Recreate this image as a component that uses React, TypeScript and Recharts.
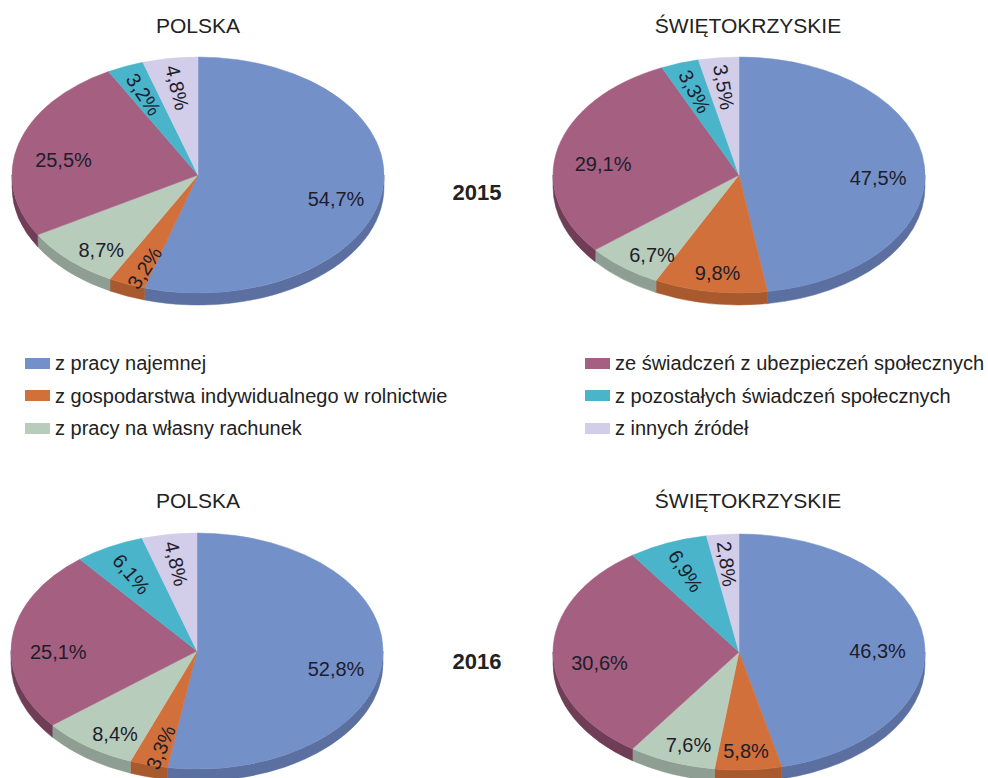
import * as React from 'react';
import { Pie, PieChart } from 'recharts';

const kategorie = [
  'z pracy najemnej',
  'z gospodarstwa indywidualnego w rolnictwie',
  'z pracy na własny rachunek',
  'ze świadczeń z ubezpieczeń społecznych',
  'z pozostałych świadczeń społecznych',
  'z innych źródeł',
];

const polska2015 = [54.7, 3.2, 8.7, 25.5, 3.2, 4.8];
const swietokrzyskie2015 = [47.5, 9.8, 6.7, 29.1, 3.3, 3.5];
const polska2016 = [52.8, 3.3, 8.4, 25.1, 6.1, 4.8];
const swietokrzyskie2016 = [46.3, 5.8, 7.6, 30.6, 6.9, 2.8];

const KOLORY = ['#7490C9', '#D2703B', '#B8CCBC', '#A55F80', '#4AB4CB', '#D2CDE8'];
const BOKI = ['#5B6FA0', '#A85A2E', '#8E9E92', '#6F3E56', '#3A8FA2', '#A9A4BE'];

const RX = 186;
const RY = 118;
const K = RY / RX;
const GLEBOKOSC = 12;

function zbuduj(wartosci: number[]) {
  return wartosci.map((value, i) => ({ name: kategorie[i], value, fill: KOLORY[i], side: BOKI[i] }));
}

const pkt = (cx: number, cy: number, rx: number, ry: number, a: number, dy = 0) => {
  const r = (a * Math.PI) / 180;
  return `${cx + rx * Math.cos(r)},${cy - ry * Math.sin(r) + dy}`;
};

/** Wycinek eliptyczny z boczną ścianką (efekt 3D). */
function Wycinek(props: any) {
  const { cx, cy, outerRadius, startAngle, endAngle, fill } = props;
  const rx = outerRadius;
  const ry = outerRadius * K;
  const side = props.payload?.side ?? props.side ?? '#666';
  const hi = Math.max(startAngle, endAngle);
  const lo = Math.min(startAngle, endAngle);
  const duzy = hi - lo > 180 ? 1 : 0;

  const gora = `M${cx},${cy} L${pkt(cx, cy, rx, ry, hi)} A${rx},${ry} 0 ${duzy} 1 ${pkt(cx, cy, rx, ry, lo)} Z`;

  // widoczna część boku: dolna połowa elipsy (kąty od -180 do 0)
  const a1 = Math.min(hi, 0);
  const a2 = Math.max(lo, -180);
  let bok: string | null = null;
  if (a1 > a2) {
    const d = a1 - a2 > 180 ? 1 : 0;
    bok =
      `M${pkt(cx, cy, rx, ry, a1)} A${rx},${ry} 0 ${d} 1 ${pkt(cx, cy, rx, ry, a2)} ` +
      `L${pkt(cx, cy, rx, ry, a2, GLEBOKOSC)} A${rx},${ry} 0 ${d} 0 ${pkt(cx, cy, rx, ry, a1, GLEBOKOSC)} Z`;
  }

  return (
    <g>
      {bok && <path d={bok} fill={side} stroke={side} strokeWidth={0.5} />}
      <path d={gora} fill={fill} stroke={fill} strokeWidth={0.5} />
    </g>
  );
}

function Etykieta(props: any) {
  const { cx, cy, midAngle, outerRadius, value, index } = props;
  const rx = outerRadius;
  const ry = outerRadius * K;
  const r = (midAngle * Math.PI) / 180;
  const c = Math.cos(r);
  const s = Math.sin(r);
  const f = 0.75;
  const x = cx + rx * c * f;
  const y = cy - ry * s * f + 11 * (1 - Math.max(0, s));
  const obrot = index >= 4 || value < 4;
  const kat = obrot ? (Math.atan2(ry * s, -rx * c) * 180) / Math.PI : 0;
  const tekst = `${value.toFixed(1).replace('.', ',')}%`;
  return (
    <text
      x={x}
      y={y}
      textAnchor="middle"
      dominantBaseline="central"
      fill="#1d1d2b"
      fontSize={20}
      fontFamily="'Liberation Sans', Arial, sans-serif"
      transform={obrot ? `rotate(${kat} ${x} ${y})` : undefined}
    >
      {tekst}
    </text>
  );
}

const wykresy = [
  { id: 'p15', dane: zbuduj(polska2015), cx: 198, cy: 175 },
  { id: 's15', dane: zbuduj(swietokrzyskie2015), cx: 739, cy: 175 },
  { id: 'p16', dane: zbuduj(polska2016), cx: 197, cy: 651 },
  { id: 's16', dane: zbuduj(swietokrzyskie2016), cx: 739, cy: 652 },
];

const czcionka = "'Liberation Sans', Arial, sans-serif";

function Napis({ x, y, children, bold, size = 21 }: { x: number; y: number; children: React.ReactNode; bold?: boolean; size?: number }) {
  return (
    <div
      style={{
        position: 'absolute',
        left: x - 200,
        top: y,
        width: 400,
        textAlign: 'center',
        fontSize: size,
        lineHeight: `${size}px`,
        fontWeight: bold ? 700 : 400,
        color: '#222',
        fontFamily: czcionka,
      }}
    >
      {children}
    </div>
  );
}

function PozycjaLegendy({ x, y, kolor, tekst }: { x: number; y: number; kolor: string; tekst: string }) {
  return (
    <div style={{ position: 'absolute', left: x, top: y, height: 20, display: 'flex', alignItems: 'center', whiteSpace: 'nowrap' }}>
      <div style={{ width: 25, height: 11, background: kolor, marginRight: 5 }} />
      <span style={{ fontSize: 20, lineHeight: '20px', color: '#222', fontFamily: czcionka }}>{tekst}</span>
    </div>
  );
}

export default function App() {
  return (
    <div style={{ position: 'absolute', left: 0, top: 0, width: 988, height: 778, background: '#fff', overflow: 'hidden' }}>
      <PieChart width={988} height={778} margin={{ top: 0, right: 0, bottom: 0, left: 0 }}>
        {wykresy.map((w) => (
          <Pie
            key={w.id}
            data={w.dane}
            dataKey="value"
            nameKey="name"
            cx={w.cx}
            cy={w.cy}
            outerRadius={RX}
            startAngle={90}
            endAngle={-270}
            stroke="none"
            shape={Wycinek}
            activeShape={Wycinek}
            inactiveShape={Wycinek}
            label={Etykieta}
            labelLine={false}
            isAnimationActive={false}
          />
        ))}
      </PieChart>

      <Napis x={198} y={15}>POLSKA</Napis>
      <Napis x={748} y={15}>ŚWIĘTOKRZYSKIE</Napis>
      <Napis x={198} y={490}>POLSKA</Napis>
      <Napis x={748} y={490}>ŚWIĘTOKRZYSKIE</Napis>
      <Napis x={477} y={182} bold size={22}>2015</Napis>
      <Napis x={477} y={651} bold size={22}>2016</Napis>

      {kategorie.slice(0, 3).map((k, i) => (
        <PozycjaLegendy key={k} x={25} y={353 + i * 32.5} kolor={KOLORY[i]} tekst={k} />
      ))}
      {kategorie.slice(3).map((k, i) => (
        <PozycjaLegendy key={k} x={585} y={353 + i * 32.5} kolor={KOLORY[i + 3]} tekst={k} />
      ))}
    </div>
  );
}
